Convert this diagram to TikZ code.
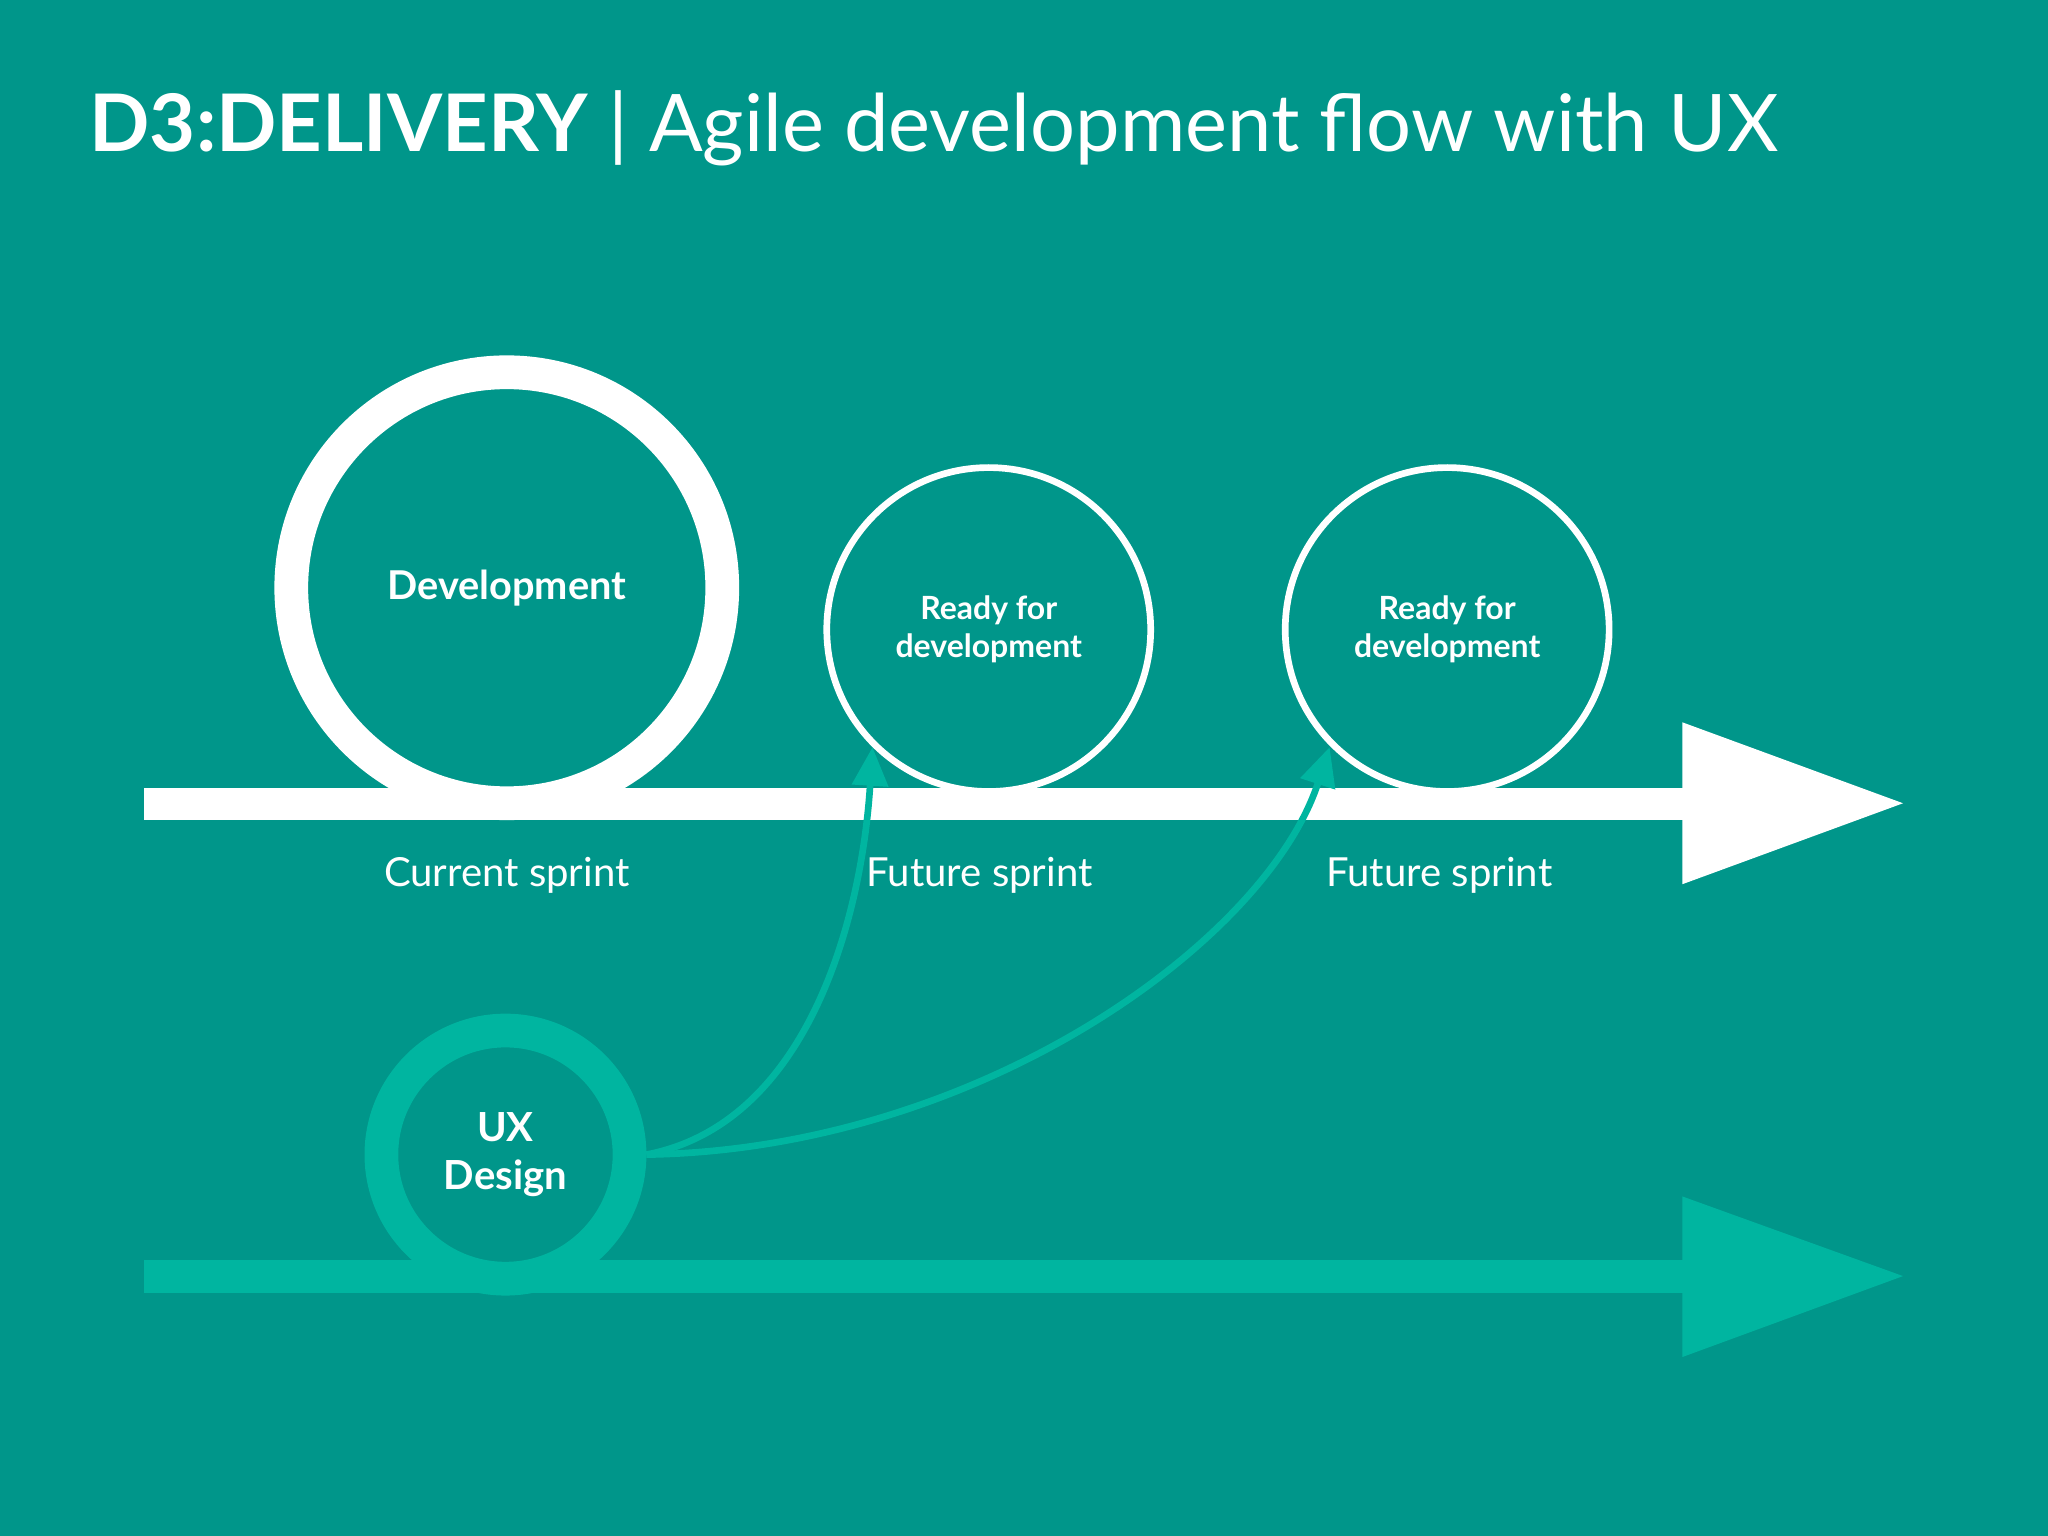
\documentclass[tikz,border=0pt]{standalone}
\usepackage{fontspec}
\setmainfont{Lato}
\usetikzlibrary{arrows.meta}
\definecolor{bg}{HTML}{00968A}
\definecolor{lt}{HTML}{00B5A0}
\begin{document}
\begin{tikzpicture}[x=0.01306cm,y=-0.01306cm,
  lbl/.style={text=white,font=\fontsize{11.4pt}{13pt}\selectfont},
  ring/.style={circle,draw=white,fill=bg,inner sep=0pt},
  curve/.style={draw=lt,line width=1.9pt,-{Triangle[length=11pt,width=10pt]}}]
\fill[bg] (0,0) rectangle (1568,1176);
\useasboundingbox (0,0) rectangle (1568,1176);
\node[anchor=base west,text=white,inner sep=0pt,font=\fontsize{22.6pt}{26pt}\selectfont] (title) at (68,116) {\textbf{D3:DELIVERY} | Agile development flow with UX};
% white timeline
\fill[white] (110,603) rectangle (1290,628);
\fill[white] (1288,553) -- (1457,615) -- (1288,677) -- cycle;
% light timeline
\fill[lt] (110,965) rectangle (1290,990);
\fill[lt] (1288,916) -- (1457,977) -- (1288,1039) -- cycle;
\node[ring,line width=9.6pt,minimum size=330*0.01306cm,text=white,font=\bfseries\fontsize{11.3pt}{13pt}\selectfont] (dev) at (388,450) {Development};
\node[ring,line width=1.9pt,minimum size=248*0.01306cm,text=white,align=center,font=\bfseries\fontsize{9.1pt}{10.8pt}\selectfont] (r1) at (757,482) {Ready for\\development};
\node[ring,line width=1.9pt,minimum size=248*0.01306cm,text=white,align=center,font=\bfseries\fontsize{9.1pt}{10.8pt}\selectfont] (r2) at (1108,482) {Ready for\\development};
\node[circle,draw=lt,fill=bg,inner sep=0pt,line width=9.6pt,minimum size=190*0.01306cm,text=white,align=center,font=\bfseries\fontsize{11.4pt}{13.5pt}\selectfont] (ux) at (387,884) {UX\\Design};
\node[lbl] (c1) at (388,670) {Current sprint};
\node[lbl] (c2) at (750,670) {Future sprint};
\node[lbl] (c3) at (1102,670) {Future sprint};
\coordinate (a1) at (668,572);
\coordinate (a2) at (1018,572);
\draw[curve] (ux.east) .. controls (620,860) and (660,700) .. (a1);
\draw[curve] (ux.east) .. controls (750,880) and (970,720) .. (a2);
\end{tikzpicture}
\end{document}
